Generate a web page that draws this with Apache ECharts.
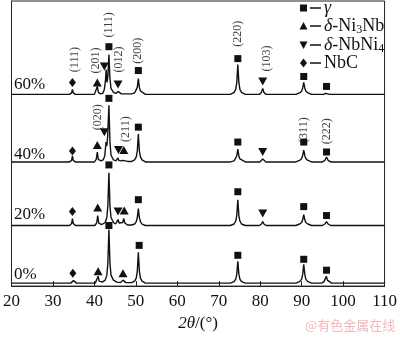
<!DOCTYPE html>
<html><head><meta charset="utf-8">
<script src="https://cdn.jsdelivr.net/npm/echarts@6/dist/echarts.min.js"></script>
<style>html,body{margin:0;padding:0;background:#fff}#c{width:400px;height:337px}</style>
</head><body><div id="c"></div>
<script>
// 2θ (deg), relative intensity above each trace's baseline
const trace0 = [[20,0],[34.3,0],[34.7,1],[34.95,2.5],[35.2,1],[35.7,0],
 [40.2,0],[40.65,2],[40.9,7],[41.15,2],[41.9,1],[42.6,3],[43.0,8],[43.25,20],[43.5,54],[43.75,20],[44.0,8],[44.6,3],[45.4,1],
 [46.3,0.5],[46.7,1.2],[46.9,3],[47.1,1.2],[47.6,0.5],
 [49.0,0.5],[49.7,2],[50.1,5],[50.35,12],[50.6,31],[50.85,12],[51.1,5],[51.5,2],[52.3,0],
 [72.8,0],[73.7,1.5],[74.1,4],[74.35,9],[74.6,22],[74.85,9],[75.1,4],[75.5,1.5],[76.4,0],
 [88.6,0],[89.5,1.5],[90.0,4],[90.25,9],[90.5,19],[90.75,9],[91.0,4],[91.5,1.5],[92.4,0],
 [94.8,0],[95.4,1.5],[95.7,3],[95.95,7],[96.2,3],[96.5,1.5],[97.2,0],[110,0]];
const trace20 = [[20,0],[34.0,0],[34.5,2],[34.7,7],[34.9,2],[35.4,0],
 [40.1,0],[40.55,2.5],[40.8,10],[41.05,2.5],[41.8,1],[42.6,3],[43.0,8],[43.25,20],[43.5,53],[43.75,20],[44.0,8],[44.6,3],
 [45.1,1.5],[45.45,2.5],[45.7,6],[45.95,2.5],[46.4,2],[46.8,3],[47.1,7],[47.35,2.5],[48.0,0.5],
 [49.0,0.5],[49.7,1.5],[50.1,4],[50.35,8],[50.6,17],[50.85,8],[51.1,4],[51.5,1.5],[52.3,0],
 [72.8,0],[73.7,1.5],[74.1,4.5],[74.35,10],[74.6,26],[74.85,10],[75.1,4.5],[75.5,1.5],[76.4,0],
 [79.8,0],[80.3,1.5],[80.6,4],[80.9,1.5],[81.4,0],
 [88.6,0],[89.5,1.5],[90.0,3],[90.25,6],[90.5,11],[90.75,6],[91.0,3],[91.5,1.5],[92.4,0],
 [95.0,0],[95.6,1.5],[96.0,4],[96.4,1.5],[97.0,0],[110,0]];
const trace40 = [[20,0],[34.0,0],[34.5,1.5],[34.7,6],[34.9,1.5],[35.4,0],
 [40.0,0],[40.45,2.5],[40.7,10],[40.95,2.5],[41.6,1],
 [42.1,2],[42.5,6],[42.8,20],[43.0,16],[43.2,26],[43.5,57],[43.75,20],[44.0,7],[44.6,2],
 [45.2,1],[45.5,1.5],[45.7,4],[45.9,1.5],[46.4,1],[46.9,1.5],[47.1,3],[47.3,1.5],[48.0,0.5],
 [49.0,0.5],[49.7,2],[50.1,5],[50.35,11],[50.6,28],[50.85,11],[51.1,5],[51.5,2],[52.3,0],
 [72.8,0],[73.7,1],[74.1,3],[74.35,6],[74.6,13],[74.85,6],[75.1,3],[75.5,1],[76.4,0],
 [79.9,0],[80.35,1],[80.6,3],[80.85,1],[81.4,0],
 [88.6,0],[89.5,1.5],[90.0,3.5],[90.25,6.5],[90.5,12],[90.75,6.5],[91.0,3.5],[91.5,1.5],[92.4,0],
 [95.0,0],[95.6,1.5],[96.0,5],[96.4,1.5],[97.0,0],[110,0]];
const trace60 = [[20,0],[34.0,0],[34.5,1.5],[34.7,5],[34.9,1.5],[35.4,0],
 [40.0,0],[40.45,2],[40.7,8],[40.95,2],[41.5,0.5],
 [42.0,1],[42.4,5],[42.65,13],[42.85,25],[43.05,12],[43.25,18],[43.5,40],[43.75,16],[44.0,6],[44.6,2],
 [45.2,1],[45.5,1.5],[45.7,3],[45.9,1.5],[46.5,0.5],
 [49.0,0.5],[49.7,1.5],[50.1,3.5],[50.35,7],[50.6,16],[50.85,7],[51.1,3.5],[51.5,1.5],[52.3,0],
 [72.8,0],[73.7,2],[74.1,5],[74.35,12],[74.6,30],[74.85,12],[75.1,5],[75.5,2],[76.4,0],
 [79.8,0],[80.3,2],[80.6,6],[80.9,2],[81.4,0],
 [88.6,0],[89.5,1.5],[90.0,3.5],[90.25,6.5],[90.5,12],[90.75,6.5],[91.0,3.5],[91.5,1.5],[92.4,0],
 [95.3,0],[95.8,1],[96.0,2],[96.2,1],[96.7,0],[110,0]];
const traceNames = ['0%','20%','40%','60%'];
const traceOffsets = [3, 61, 125, 193];
const traces = [trace0, trace20, trace40, trace60];

// phase markers [2θ, intensity]
const gammaMarks = [[43.5,61],[50.8,41],[74.6,31],[90.5,27],[96.0,16],
 [43.5,122],[50.6,87],[74.6,95],[90.5,80],[96.0,71],
 [43.5,189],[50.6,160],[74.6,145],[90.5,145],[96.0,135],
 [43.5,241],[50.6,217],[74.6,229],[90.5,211],[96.0,201]];
const ni3nbMarks = [[40.9,15],[46.9,13],[40.8,79],[47.2,76],[40.7,142],[47.1,137],[40.7,205]];
const nbni4Marks = [[45.7,75],[80.6,73],[42.4,155],[45.8,137],[80.6,135],[42.4,221],[45.7,203],[80.6,206]];
const nbcMarks = [[34.8,13],[34.7,75],[34.7,136],[34.7,205]];

// Miller index labels [2θ, intensity, text]
const hklLabels = [[35.4,228,'(111)'],[40.4,227,'(201)'],[43.5,263,'(111)'],[45.9,228,'(012)'],
 [50.6,237,'(200)'],[74.6,254,'(220)'],[81.5,229,'(103)'],
 [40.9,170,'(020)'],[47.6,158,'(211)'],[90.5,157,'(311)'],[96.0,156,'(222)']];
const xTicks = [20,30,40,50,60,70,80,90,100,110];
const legendNames = ['γ','δ-Ni3Nb','δ-NbNi4','NbC'];

const serif = '"Liberation Serif","Times New Roman",serif';
const chart = echarts.init(document.getElementById('c'), null, {renderer:'canvas'});
const series = [];
traces.forEach((t,i)=>{
  series.push({type:'line', name:traceNames[i], data:t.map(p=>[p[0], p[1]+traceOffsets[i]]),
    showSymbol:false, symbol:'none', lineStyle:{color:'#111', width:1.4}, silent:true, z:2});
});
const downTri = 'path://M0,0 L10,0 L5,9 Z';
const mk = {color:'#111', opacity:1};
series.push({type:'scatter', name:legendNames[0], data:gammaMarks, symbol:'rect', symbolSize:7, itemStyle:mk, z:3});
series.push({type:'scatter', name:legendNames[1], data:ni3nbMarks, symbol:'triangle', symbolSize:[9,8], itemStyle:mk, z:3});
series.push({type:'scatter', name:legendNames[2], data:nbni4Marks, symbol:downTri, symbolSize:[9,8], itemStyle:mk, z:3});
series.push({type:'scatter', name:legendNames[3], data:nbcMarks, symbol:'diamond', symbolSize:[7,9], itemStyle:mk, z:3});
series.push({type:'scatter', name:'hkl', data:hklLabels.map(d=>({value:[d[0],d[1]], name:d[2]})), symbolSize:0,
  label:{show:true, position:'inside', rotate:90, formatter:p=>p.name, fontFamily:serif, fontSize:12, color:'#111'}, z:4});

const pctGraphics = traceNames.map((n,i)=>({type:'text', left:14, top:[266,206,146,76][i],
  style:{text:n, font:'17px '+serif, fill:'#111'}}));

// legend drawn as graphic rows: symbol, dash, text
const rowY = [8, 26, 45, 63];
const rich = {i:{fontFamily:serif, fontStyle:'italic', fontSize:18, fill:'#111'},
  t:{fontFamily:serif, fontSize:18, fill:'#111'},
  s:{fontFamily:serif, fontSize:12, fill:'#111', padding:[8,0,0,0]}};
const legendTexts = ['{i|γ}','{i|δ}{t|-Ni}{s|3}{t|Nb}','{i|δ}{t|-NbNi}{s|4}','{t|NbC}'];
const legendShapes = [
  y=>({type:'rect', shape:{x:300, y:y-3.5, width:7, height:7}, style:{fill:'#111'}}),
  y=>({type:'polygon', shape:{points:[[303.5,y-4],[299.5,y+3.5],[307.5,y+3.5]]}, style:{fill:'#111'}}),
  y=>({type:'polygon', shape:{points:[[299.5,y-3.5],[307.5,y-3.5],[303.5,y+4]]}, style:{fill:'#111'}}),
  y=>({type:'polygon', shape:{points:[[303.5,y-4.5],[307,y],[303.5,y+4.5],[300,y]]}, style:{fill:'#111'}})
];
const legendGraphics = [];
rowY.forEach((y,i)=>{
  legendGraphics.push(legendShapes[i](y));
  legendGraphics.push({type:'rect', shape:{x:310, y:y-0.75, width:11, height:1.5}, style:{fill:'#111'}});
  legendGraphics.push({type:'text', x:324, y:y, style:{text:legendTexts[i], rich, verticalAlign:'middle', textVerticalAlign:'middle'}});
});

chart.setOption({
  animation:false,
  backgroundColor:'#fff',
  grid:{left:7, right:14, top:1, bottom:49, show:true, borderColor:'#222', borderWidth:1},
  xAxis:{type:'value', min:20, max:110, interval:10,
    axisLine:{lineStyle:{color:'#222', width:1}},
    axisTick:{inside:true, length:5, lineStyle:{color:'#222'}},
    axisLabel:{fontFamily:serif, fontSize:17, color:'#111', margin:7, formatter:v=>xTicks.includes(v)?String(v):''},
    splitLine:{show:false},
    name:'{i|2θ}{n|/(°)}', nameLocation:'middle', nameGap:23,
    nameTextStyle:{rich:{i:{fontFamily:serif, fontStyle:'italic', fontSize:17, color:'#111'}, n:{fontFamily:serif, fontSize:17, color:'#111'}}}
  },
  yAxis:{type:'value', min:0, max:287, axisLabel:{show:false}, axisTick:{show:false}, splitLine:{show:false},
    axisLine:{show:true, lineStyle:{color:'#222'}}},
  graphic:[...pctGraphics, ...legendGraphics,
    {type:'text', left:305, top:319, style:{text:'@有色金属在线', font:'13px "Noto Sans CJK SC"', fill:'#f2b8b8'}}],
  series
});
</script></body></html>
